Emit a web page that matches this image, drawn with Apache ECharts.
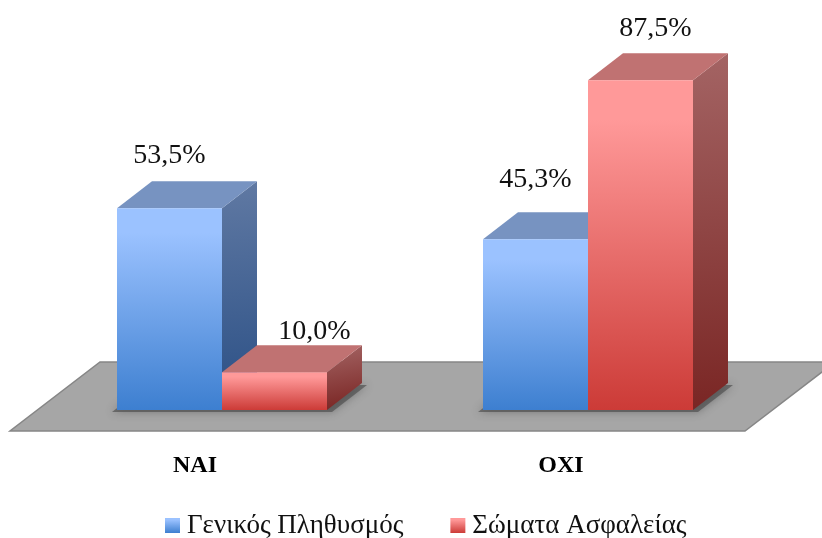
<!DOCTYPE html>
<html>
<head>
<meta charset="utf-8">
<style>html,body{margin:0;padding:0;background:#fff}#c{width:822px;height:538px}</style>
<script src="https://cdn.jsdelivr.net/npm/echarts@6/dist/echarts.min.js"></script>
</head>
<body>
<div id="c"></div>
<script>
var categories = ['ΝΑΙ', 'ΟΧΙ'];
var seriesNames = ['Γενικός Πληθυσμός', 'Σώματα Ασφαλείας'];
var generalValues = [53.5, 45.3];
var securityValues = [10.0, 87.5];

// Layout and style constants
var FONT = '"Liberation Serif", serif';
var BAR_W = 105, DEPTH_X = 35, DEPTH_Y = 27;
var PLANE_X = 27, PLANE_Y = 21;
var FLOOR_X = 90, FLOOR_Y = 69;
var generalLabelOffset = [[0, -53], [0, -60]];
var securityLabelOffset = [[40, -41], [15, -51]];

function lg(top, bottom) {
  return new echarts.graphic.LinearGradient(0, 0, 0, 1, [
    { offset: 0, color: top }, { offset: 0.12, color: top }, { offset: 1, color: bottom }
  ]);
}

function barRenderer(side, front, topFace, sideFace, labelOffset) {
  return function (params, api) {
    var p = api.coord([api.value(0), api.value(1)]);
    var b = api.coord([api.value(0), 0]);
    var xl = p[0] + PLANE_X + (side < 0 ? -BAR_W : 0);
    var xr = xl + BAR_W;
    var yt = p[1] - PLANE_Y, yb = b[1] - PLANE_Y;
    var off = labelOffset[params.dataIndex];
    return {
      type: 'group',
      children: [
        { type: 'polygon', shape: { points: [[xr, yt], [xr + DEPTH_X, yt - DEPTH_Y], [xr + DEPTH_X, yb - DEPTH_Y], [xr, yb]] },
          style: { fill: new echarts.graphic.LinearGradient(0, 0, 0.35, 1, [
            { offset: 0, color: sideFace[0] }, { offset: 1, color: sideFace[1] }]) } },
        { type: 'polygon', shape: { points: [[xl, yt], [xl + DEPTH_X, yt - DEPTH_Y], [xr + DEPTH_X, yt - DEPTH_Y], [xr, yt]] },
          style: { fill: topFace } },
        { type: 'rect', shape: { x: xl, y: yt, width: BAR_W, height: yb - yt },
          style: { fill: lg(front[0], front[1]) } },
        { type: 'text', x: (xl + xr) / 2 + off[0], y: yt + off[1],
          style: { text: api.value(1).toFixed(1).replace('.', ',') + '%', fill: '#111',
            font: '28px ' + FONT, align: 'center', verticalAlign: 'middle' } }
      ]
    };
  };
}

function rows(values) {
  return values.map(function (v, i) { return [i, v]; });
}

var blueFront = ['#9bc2ff', '#3d7fd0'];
var redFront = ['#ff9999', '#cc3b37'];

var option = {
  animation: false,
  backgroundColor: '#fff',
  grid: { left: 12, width: 732, top: 54, height: 377 },
  xAxis: {
    type: 'category', data: categories,
    axisLine: { show: false }, axisTick: { show: false },
    axisLabel: { color: '#000', fontFamily: FONT, fontWeight: 'bold', fontSize: 24, margin: 23 }
  },
  yAxis: { type: 'value', min: 0, max: 100, show: false },
  legend: {
    left: 160, top: 507, icon: 'rect', itemWidth: 15, itemHeight: 15, itemGap: 47,
    data: seriesNames,
    textStyle: { color: '#111', fontFamily: FONT, fontSize: 27, padding: [0, 0, 0, 2] }
  },
  series: [
    { type: 'custom', silent: true, data: [[0, 0]], encode: { x: 0, y: 1 },
      renderItem: function (params) {
        var g = params.coordSys;
        var l = g.x - 2, r = g.x + g.width + 1, y = g.y + g.height;
        return { type: 'polygon',
          shape: { points: [[l, y], [r, y], [r + FLOOR_X, y - FLOOR_Y], [l + FLOOR_X, y - FLOOR_Y]] },
          style: { fill: '#a6a6a6', stroke: '#868686', lineWidth: 1.5 } };
      } },
    { type: 'custom', silent: true, data: rows(generalValues), encode: { x: 0, y: 1 },
      renderItem: function (params, api) {
        var b = api.coord([api.value(0), 0]);
        var xl = b[0] + PLANE_X - BAR_W - 5, xr = b[0] + PLANE_X + BAR_W + 5, y = b[1] - PLANE_Y + 2;
        return { type: 'polygon',
          shape: { points: [[xl, y], [xr, y], [xr + DEPTH_X, y - DEPTH_Y], [xl + DEPTH_X, y - DEPTH_Y]] },
          style: { fill: 'rgba(70,70,70,0.6)', shadowBlur: 8, shadowColor: 'rgba(60,60,60,0.7)' } };
      } },
    { name: seriesNames[0], type: 'custom', data: rows(generalValues), encode: { x: 0, y: 1 },
      itemStyle: { color: lg('#9bc2ff', '#3d7fd0') },
      renderItem: barRenderer(-1, blueFront, '#7793c1', ['#6079a3', '#2a4f85'], generalLabelOffset) },
    { name: seriesNames[1], type: 'custom', data: rows(securityValues), encode: { x: 0, y: 1 },
      itemStyle: { color: lg('#ff9999', '#cc3b37') },
      renderItem: barRenderer(1, redFront, '#c07272', ['#a46464', '#7a2624'], securityLabelOffset) }
  ]
};
echarts.init(document.getElementById('c'), null, { renderer: 'canvas' }).setOption(option);
</script>
</body>
</html>
